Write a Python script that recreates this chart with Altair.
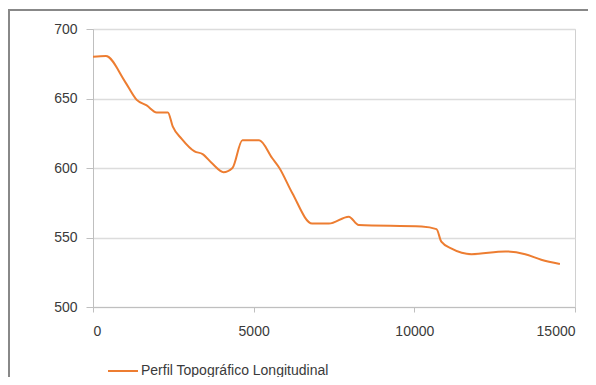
import altair as alt
import pandas as pd

distance = [0, 400, 1000, 1360, 1670, 1980, 2330, 2480, 2760, 3160, 3410, 3720, 4060, 4340,
            4650, 5170, 5580, 5800, 6200, 6820, 7340, 7960, 8270, 10230, 10690, 10840,
            11160, 11780, 12830, 13450, 13950, 14530]
elevation = [680, 680.5, 662, 649, 645, 640, 640, 630, 621, 612, 610, 603, 597, 600,
             620, 620, 607, 600, 582, 560, 560, 565, 559, 558, 556, 547,
             542, 538, 540, 538, 534, 531]
series_name = "Perfil Topográfico Longitudinal"
x_ticks = [0, 5000, 10000, 15000]
y_ticks = [500, 550, 600, 650, 700]

df = pd.DataFrame({"d": distance, "z": elevation, "s": series_name})

line = alt.Chart(df).mark_line(strokeWidth=2, interpolate="monotone").encode(
    x=alt.X("d:Q", scale=alt.Scale(domain=[0, 15000], nice=False),
            axis=alt.Axis(values=x_ticks, title=None, grid=False, tickSize=5,
                          labelPadding=12, format="d")),
    y=alt.Y("z:Q", scale=alt.Scale(domain=[500, 700], nice=False, zero=False),
            axis=alt.Axis(values=y_ticks, title=None, grid=True, tickSize=7,
                          labelPadding=9, format="d")),
    color=alt.Color("s:N", scale=alt.Scale(range=["#ED7D31"]),
                    legend=alt.Legend(orient="none", legendX=14, legendY=326, title=None,
                                      symbolType="stroke", symbolSize=900,
                                      symbolStrokeWidth=2, labelFontSize=14,
                                      labelOffset=2, padding=0, labelColor="#3a3a3a",
                                      labelFont="Liberation Sans", labelLimit=0)),
)

frame_top = alt.Chart(df).mark_rule(color="#888888", strokeWidth=2).encode(
    x=alt.value(-85), x2=alt.value(500), y=alt.value(-19))
frame_left = alt.Chart(df).mark_rule(color="#888888", strokeWidth=2).encode(
    x=alt.value(-84), y=alt.value(-19), y2=alt.value(360))

chart = alt.layer(line, frame_top, frame_left).properties(
    width=482, height=278,
    autosize=alt.AutoSizeParams(type="none"),
    padding={"left": 85, "top": 21, "right": 13, "bottom": 70},
    background="white",
).configure_view(stroke="#d0d0d0", strokeWidth=1).configure_axis(
    labelFont="Liberation Sans", labelFontSize=14, labelColor="#3a3a3a",
    domainColor="#bfbfbf", tickColor="#bfbfbf", gridColor="#dcdcdc", gridWidth=1.5,
)

chart.save("out.html", embed_options={"renderer": "svg", "actions": False})
